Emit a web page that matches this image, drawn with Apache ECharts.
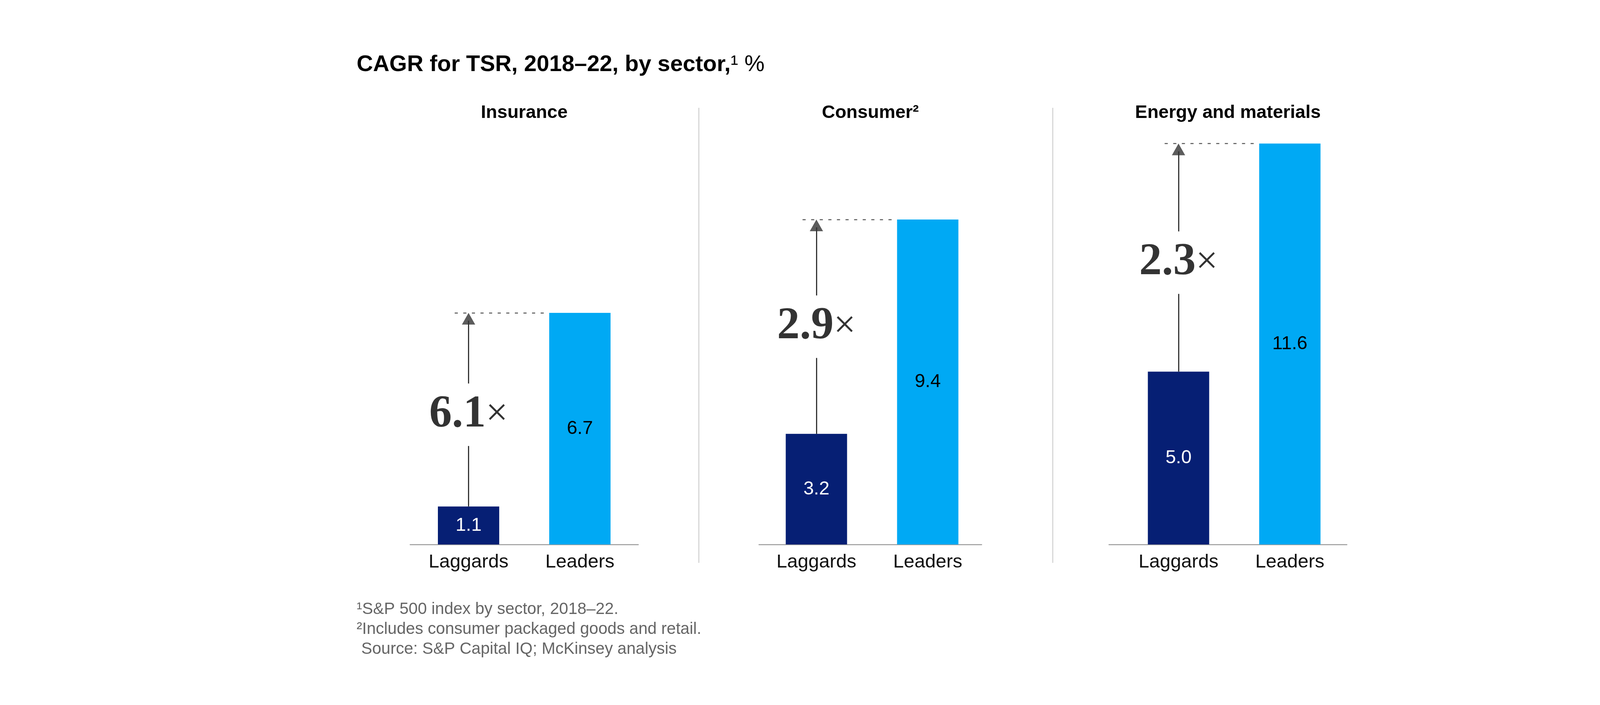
<!DOCTYPE html>
<html><head><meta charset="utf-8">
<script src="https://cdn.jsdelivr.net/npm/echarts@6/dist/echarts.min.js"></script>
<style>html,body{margin:0;padding:0;background:#fff}#c{width:4322px;height:1805px}</style>
</head><body><div id="c"></div>
<script>
// ---------- data ----------
const sectors = ['Insurance', 'Consumer²', 'Energy and materials'];
const categories = ['Laggards', 'Leaders'];
const laggards = [1.1, 3.2, 5.0];
const leaders = [6.7, 9.4, 11.6];
const multipliers = [6.1, 2.9, 2.3];
const titleText = 'CAGR for TSR, 2018–22, by sector,';
const footnotes = [
  '¹S&P 500 index by sector, 2018–22.',
  '²Includes consumer packaged goods and retail.',
  ' Source: S&P Capital IQ; McKinsey analysis'
];

// ---------- layout / style ----------
const NAVY = '#061f74', CYAN = '#00a9f4';
const SANS = '"Liberation Sans", Arial, sans-serif';
const SERIF = '"Liberation Serif", "Times New Roman", serif';
const baseY = 1394, pxPerUnit = 88.5, yMax = 12;
const spacing = 285, barW = 157;
const panels = [
  {axisL: 1050, axisR: 1634, c0: 1199.5, labelShiftPx: 13},
  {axisL: 1943, axisR: 2513, c0: 2090, labelShiftPx: 0},
  {axisL: 2839, axisR: 3448, c0: 3017, labelShiftPx: 13}
];
const gapHalf = 80 / pxPerUnit;     // gap in arrow shaft around the multiplier label
const arrowLen = 30;                 // arrow head height (px)

const grids = [], xAxes = [], yAxes = [], series = [], graphics = [];
panels.forEach((p, i) => {
  grids.push({left: p.axisL, width: p.axisR - p.axisL, top: baseY - yMax * pxPerUnit,
              height: yMax * pxPerUnit, containLabel: false});
  xAxes.push({
    type: 'value', gridIndex: i,
    min: -(p.c0 - p.axisL) / spacing,
    max: 1 + (p.axisR - (p.c0 + spacing)) / spacing,
    axisLine: {show: true, onZero: false, lineStyle: {color: '#9a9a9a', width: 2.5}},
    axisTick: {show: false}, splitLine: {show: false},
    axisLabel: {customValues: [0, 1], formatter: v => categories[Math.round(v)],
                fontFamily: SANS, fontSize: 49, color: '#111', margin: 21}
  });
  yAxes.push({type: 'value', gridIndex: i, min: 0, max: yMax, show: false});

  const lag = laggards[i], lead = leaders[i];
  const mid = (lag + lead) / 2 - p.labelShiftPx / pxPerUnit;
  series.push({
    type: 'bar', xAxisIndex: i, yAxisIndex: i, barWidth: barW, silent: true,
    label: {show: true, position: 'inside', fontFamily: SANS, fontSize: 48,
            formatter: q => q.value[1].toFixed(1)},
    data: [
      {value: [0, lag], itemStyle: {color: NAVY}, label: {color: '#fff'}},
      {value: [1, lead], itemStyle: {color: CYAN}, label: {color: '#000'}}
    ]
  });
  series.push({
    type: 'scatter', xAxisIndex: i, yAxisIndex: i, silent: true, z: 5,
    data: [
      {value: [0, lead], symbol: 'triangle', symbolSize: [34, arrowLen],
       symbolOffset: [0, arrowLen / 2], itemStyle: {color: '#333'}},
      {value: [0, mid], symbolSize: 1, itemStyle: {color: 'rgba(0,0,0,0)'},
       label: {show: true, position: 'inside',
               formatter: '{n|' + multipliers[i].toFixed(1) + '}{x|×}',
               rich: {
                 n: {fontFamily: SERIF, fontWeight: 'bold', fontSize: 116, color: '#000'},
                 x: {fontFamily: SERIF, fontSize: 100, color: '#000'}
               }}}
    ],
    markLine: {
      silent: true, symbol: ['none', 'none'], animation: false,
      label: {show: false},
      lineStyle: {color: '#333', width: 3, type: 'solid'},
      data: [
        [{coord: [0, lag]}, {coord: [0, mid - gapHalf]}],
        [{coord: [0, mid + gapHalf]}, {coord: [0, lead - 20 / pxPerUnit]}],
        [{coord: [-35.5 / spacing, lead], lineStyle: {color: '#555', width: 2.5, type: [8, 14]}},
         {coord: [1 - (barW / 2) / spacing, lead]}]
      ]
    }
  });
  graphics.push({type: 'text', x: (p.axisL + p.axisR) / 2, y: 289,
    style: {text: sectors[i], font: 'bold 47px ' + SANS, fill: '#000',
            textAlign: 'center', textVerticalAlign: 'middle'}});
});

// dividers
[1789, 2695].forEach(x => graphics.push({type: 'line',
  shape: {x1: x, y1: 276, x2: x, y2: 1441}, style: {stroke: '#d6d6d6', lineWidth: 3}}));

// title
graphics.push({type: 'text', x: 913, y: 166, style: {
  text: '{b|' + titleText + '}{s|¹ }{r|%}', textVerticalAlign: 'middle',
  rich: {b: {font: 'bold 58px ' + SANS, fill: '#000'},
         s: {font: '58px ' + SANS, fill: '#000'},
         r: {font: '58px ' + SANS, fill: '#000'}}}});

// footnotes
footnotes.forEach((t, k) => graphics.push({type: 'text', x: 913, y: 1560 + k * 51,
  style: {text: t, font: '42px ' + SANS, fill: '#666', textVerticalAlign: 'middle'}}));

const chart = echarts.init(document.getElementById('c'), null, {renderer: 'canvas'});
chart.setOption({
  animation: false, backgroundColor: '#fff',
  grid: grids, xAxis: xAxes, yAxis: yAxes, series: series, graphic: graphics
});
</script></body></html>
